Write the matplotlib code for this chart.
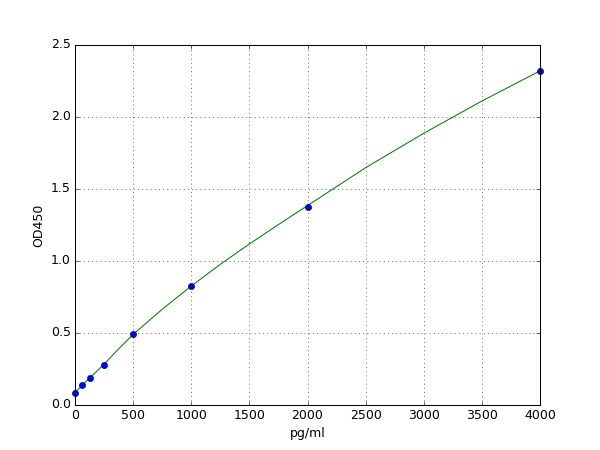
import matplotlib
matplotlib.use("Agg")
from matplotlib import pyplot as plt

# standards (pg/ml) and measured OD450
conc = [0, 62.5, 125, 250, 500, 1000, 2000, 4000]
od = [0.081, 0.139, 0.187, 0.278, 0.493, 0.827, 1.375, 2.32]

# fitted curve
curve_x = [0, 62.5, 125, 250, 375, 500, 750, 1000, 1250, 1500, 1750, 2000,
           2500, 3000, 3500, 4000]
curve_y = [0.085, 0.137, 0.186, 0.283, 0.39, 0.49, 0.665, 0.826, 0.977, 1.118,
           1.253, 1.385, 1.648, 1.887, 2.111, 2.32]

plt.style.use("classic")
fig = plt.figure(figsize=(8, 6), dpi=75)
ax = fig.add_subplot(111)

ax.plot(curve_x, curve_y, color="g", linewidth=1)
ax.plot(conc, od, "o", color="b", markeredgecolor="k", markersize=6, clip_on=False)

ax.set_xlim(0, 4000)
ax.set_ylim(0, 2.5)
ax.set_xlabel("pg/ml")
ax.set_ylabel("OD450")
ax.grid(True)

fig.savefig("out.png", dpi=75)
